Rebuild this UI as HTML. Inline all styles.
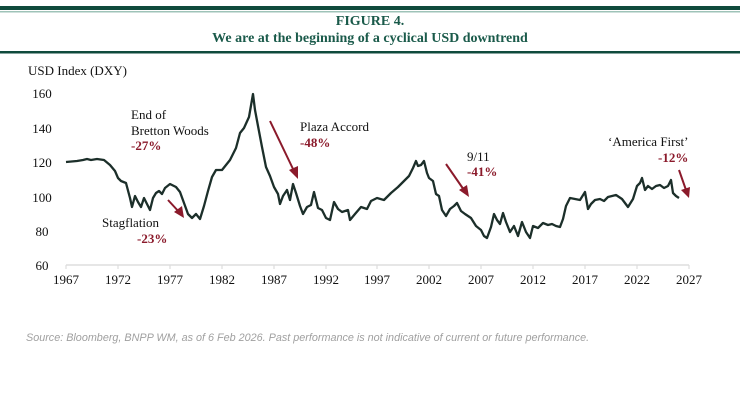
<!DOCTYPE html>
<html><head><meta charset="utf-8"><style>
body{margin:0;background:#fff;}
svg{display:block;font-family:"Liberation Serif",serif;}
</style></head><body>
<svg width="740" height="403" viewBox="0 0 740 403">
<rect x="0" y="6" width="740" height="4" fill="#0f4a3c"/>
<rect x="0" y="11" width="740" height="1.5" fill="#9fc3b8"/>
<text x="370" y="25" text-anchor="middle" font-size="14" font-weight="bold" fill="#1a5a4a">FIGURE 4.</text>
<text x="370" y="42" text-anchor="middle" font-size="14" font-weight="bold" fill="#1a5a4a">We are at the beginning of a cyclical USD downtrend</text>
<rect x="0" y="51" width="740" height="2.5" fill="#0f4a3c"/>
<text x="28" y="75" font-size="13" fill="#111">USD Index (DXY)</text>
<g font-size="13" fill="#111" text-anchor="middle">
<text x="42" y="98">160</text><text x="42" y="133">140</text><text x="42" y="167">120</text>
<text x="42" y="202">100</text><text x="42" y="236">80</text><text x="42" y="270">60</text>
</g>
<line x1="66" y1="265" x2="689" y2="265" stroke="#ddd" stroke-width="1.5"/>
<g stroke="#ddd" stroke-width="1.2">
<line x1="66" y1="265" x2="66" y2="269"/><line x1="118" y1="265" x2="118" y2="269"/><line x1="170" y1="265" x2="170" y2="269"/><line x1="222" y1="265" x2="222" y2="269"/><line x1="274" y1="265" x2="274" y2="269"/><line x1="326" y1="265" x2="326" y2="269"/><line x1="377" y1="265" x2="377" y2="269"/><line x1="429" y1="265" x2="429" y2="269"/><line x1="481" y1="265" x2="481" y2="269"/><line x1="533" y1="265" x2="533" y2="269"/><line x1="585" y1="265" x2="585" y2="269"/><line x1="637" y1="265" x2="637" y2="269"/><line x1="689" y1="265" x2="689" y2="269"/>
</g>
<g font-size="13" fill="#111" text-anchor="middle">
<text x="66" y="284">1967</text><text x="118" y="284">1972</text><text x="170" y="284">1977</text><text x="222" y="284">1982</text><text x="274" y="284">1987</text><text x="326" y="284">1992</text><text x="377" y="284">1997</text><text x="429" y="284">2002</text><text x="481" y="284">2007</text><text x="533" y="284">2012</text><text x="585" y="284">2017</text><text x="637" y="284">2022</text><text x="689" y="284">2027</text>
</g>
<polyline fill="none" stroke="#1c2f2a" stroke-width="2.3" stroke-linejoin="round" points="66,162 77,161 83,160 87,159 91,160 97,159 104,160 110,165 115,171 118,178 121,181 126,183 130,198 132,207 135,196 138,202 141,207 144,198 147,204 150,210 153,198 156,193 159,191 162,194 165,188 170,184 176,187 180,192 184,203 188,214 192,218 196,214 200,219 204,206 208,191 212,177 216,170 222,170 230,160 236,148 240,133 244,128 249,117 253,94 255,110 258,126 262,147 266,167 270,176 274,187 278,194 280,204 283,196 287,190 290,200 293,184 296,193 300,206 303,214 307,207 311,205 314,192 318,208 322,210 326,218 330,220 334,202 338,209 342,212 348,210 350,220 355,214 361,207 367,209 371,201 377,198 384,200 391,193 398,187 404,181 409,176 413,168 416,161 418,166 421,165 424,161 427,173 429,178 433,181 436,194 439,196 442,210 446,216 450,209 454,206 457,203 461,211 465,214 471,218 476,226 481,230 484,236 487,238 491,227 494,214 497,220 500,224 503,213 506,222 510,232 514,226 518,236 522,222 526,232 530,238 533,226 538,228 543,223 548,225 552,224 556,226 560,227 563,219 566,206 570,198 575,199 580,200 585,192 588,209 591,204 595,200 600,199 604,201 608,197 612,196 616,195 622,199 628,207 633,199 637,186 640,183 642,178 645,190 648,186 652,189 656,186 660,185 664,188 668,186 671,180 673,193 676,196 679,198"/>
<g fill="#8b1a2b" stroke="#8b1a2b">
<line x1="168" y1="200" x2="180" y2="213" stroke-width="2"/><polygon points="184,218 174,212 182,206" stroke="none"/>
<line x1="270" y1="121" x2="294" y2="171" stroke-width="2"/><polygon points="298,179 289,170 298,166" stroke="none"/>
<line x1="446" y1="164" x2="464" y2="190" stroke-width="2"/><polygon points="469,197 459,190 467,185" stroke="none"/>
<line x1="679" y1="170" x2="686" y2="190" stroke-width="2"/><polygon points="689,198 681,190 690,187" stroke="none"/>
</g>
<g font-size="13" fill="#111">
<text x="131" y="119">End of</text><text x="131" y="135">Bretton Woods</text>
<text x="102" y="227">Stagflation</text>
<text x="300" y="131">Plaza Accord</text>
<text x="467" y="161">9/11</text>
<text x="608" y="146">‘America First’</text>
</g>
<g font-size="13" font-weight="bold" fill="#8b1a2b">
<text x="131" y="150">-27%</text>
<text x="137" y="243">-23%</text>
<text x="300" y="147">-48%</text>
<text x="467" y="176">-41%</text>
<text x="658" y="162">-12%</text>
</g>
<text x="26" y="341" font-family="Liberation Sans,sans-serif" font-style="italic" font-size="10.8" fill="#a0a0a0">Source: Bloomberg, BNPP WM, as of 6 Feb 2026.  Past performance is not indicative of current or future performance.</text>
</svg>
</body></html>
